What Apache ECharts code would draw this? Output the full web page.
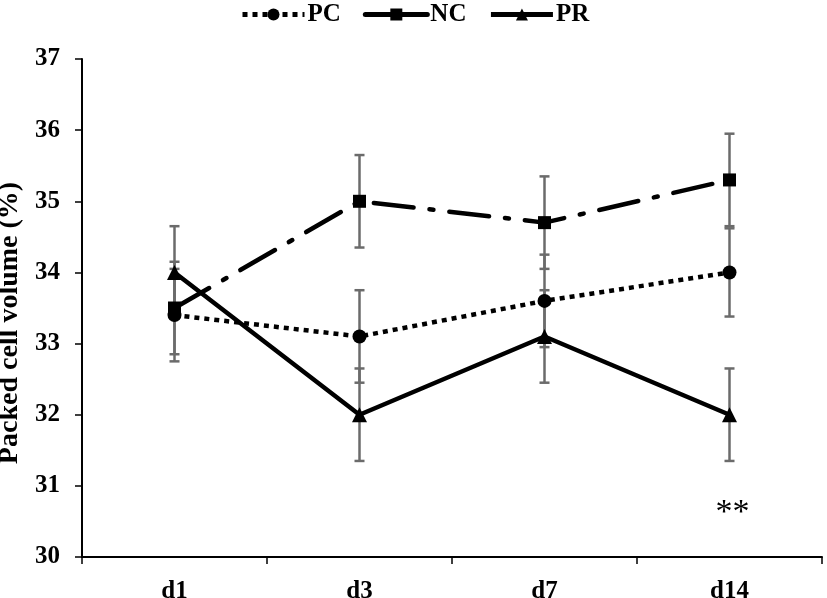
<!DOCTYPE html>
<html>
<head>
<meta charset="utf-8">
<script src="https://cdn.jsdelivr.net/npm/echarts@6/dist/echarts.min.js"></script>
<style>html,body{margin:0;padding:0;background:#fff}#c{width:827px;height:598px}</style>
</head>
<body>
<div id="c"></div>
<script>
var categories = ['d1', 'd3', 'd7', 'd14'];
var yTicks = [30, 31, 32, 33, 34, 35, 36, 37];
var pcValues = [33.4, 33.1, 33.6, 34.0];
var ncValues = [33.5, 35.0, 34.7, 35.3];
var prValues = [34.0, 32.0, 33.1, 32.0];
var pcErr = [0.65, 0.65, 0.65, 0.62];
var ncErr = [0.65, 0.65, 0.65, 0.65];
var prErr = [0.65, 0.65, 0.65, 0.65];
var annotation = { category: 'd14', value: 30.62, text: '**' };

var FONT = '"Liberation Serif", "Times New Roman", serif';

function errData(vals, errs) {
  return vals.map(function (v, i) { return [i, v - errs[i], v + errs[i]]; });
}
function errSeries(name, vals, errs) {
  return {
    type: 'custom',
    name: name,
    z: 1,
    silent: true,
    data: errData(vals, errs),
    encode: { x: 0, y: [1, 2] },
    renderItem: function (params, api) {
      var x = api.value(0);
      var lo = api.coord([x, api.value(1)]);
      var hi = api.coord([x, api.value(2)]);
      var hw = 5;
      var st = { stroke: '#6b6b6b', lineWidth: 2.5 };
      return {
        type: 'group',
        children: [
          { type: 'line', shape: { x1: lo[0], y1: lo[1], x2: hi[0], y2: hi[1] }, style: st },
          { type: 'line', shape: { x1: lo[0] - hw, y1: lo[1], x2: lo[0] + hw, y2: lo[1] }, style: st },
          { type: 'line', shape: { x1: hi[0] - hw, y1: hi[1], x2: hi[0] + hw, y2: hi[1] }, style: st }
        ]
      };
    }
  };
}

var chart = echarts.init(document.getElementById('c'));
chart.setOption({
  animation: false,
  backgroundColor: '#fff',
  legend: {
    data: [
      { name: 'PC', lineStyle: { width: 5, type: [5, 5] } },
      { name: 'NC', lineStyle: { width: 5, type: 'solid' } },
      { name: 'PR', lineStyle: { width: 5 } }
    ],
    top: -3,
    left: 235,
    itemWidth: 62,
    itemHeight: 15,
    itemGap: 22,
    textStyle: { fontFamily: FONT, fontWeight: 'bold', fontSize: 25, color: '#000', padding: [0, 0, 0, -2] }
  },
  grid: { left: 82, right: 5, top: 59, bottom: 41, containLabel: false, outerBoundsMode: 'none' },
  xAxis: {
    type: 'category',
    data: categories,
    boundaryGap: true,
    axisLine: { lineStyle: { color: '#000', width: 2 } },
    axisTick: { show: true, length: 7, lineStyle: { color: '#000', width: 1.5 } },
    axisLabel: { fontFamily: FONT, fontWeight: 'bold', fontSize: 25, color: '#000', margin: 22 }
  },
  yAxis: {
    type: 'value',
    min: yTicks[0],
    max: yTicks[yTicks.length - 1],
    interval: 1,
    name: 'Packed cell volume (%)',
    nameLocation: 'middle',
    nameGap: 49,
    nameTextStyle: { fontFamily: FONT, fontWeight: 'bold', fontSize: 28, color: '#000', padding: [0, 30, 0, 0] },
    splitLine: { show: false },
    axisLine: { show: true, lineStyle: { color: '#000', width: 2 } },
    axisTick: { show: true, length: 7, lineStyle: { color: '#000', width: 1.5 } },
    axisLabel: { fontFamily: FONT, fontWeight: 'bold', fontSize: 25, color: '#000', margin: 22 }
  },
  series: [
    errSeries('PC_err', pcValues, pcErr),
    errSeries('NC_err', ncValues, ncErr),
    errSeries('PR_err', prValues, prErr),
    {
      name: 'PC', type: 'line', z: 3, data: pcValues,
      symbol: 'circle', symbolSize: 14,
      itemStyle: { color: '#000' },
      lineStyle: { color: '#000', width: 4.5, type: [5, 5] }
    },
    {
      name: 'NC', type: 'line', z: 3, data: ncValues,
      symbol: 'rect', symbolSize: 13,
      itemStyle: { color: '#000' },
      lineStyle: { color: '#000', width: 4.5, type: [40, 16, 4, 16], cap: 'round' }
    },
    {
      name: 'PR', type: 'line', z: 3, data: prValues,
      symbol: 'triangle', symbolSize: 15,
      itemStyle: { color: '#000' },
      lineStyle: { color: '#000', width: 4.5 },
      markPoint: {
        symbol: 'circle', symbolSize: 1,
        itemStyle: { color: 'rgba(0,0,0,0)' },
        label: { show: true, formatter: annotation.text, fontFamily: FONT, fontSize: 34, color: '#000', position: 'inside', offset: [3, 0] },
        data: [{ coord: [annotation.category, annotation.value] }]
      }
    }
  ]
});
</script>
</body>
</html>
